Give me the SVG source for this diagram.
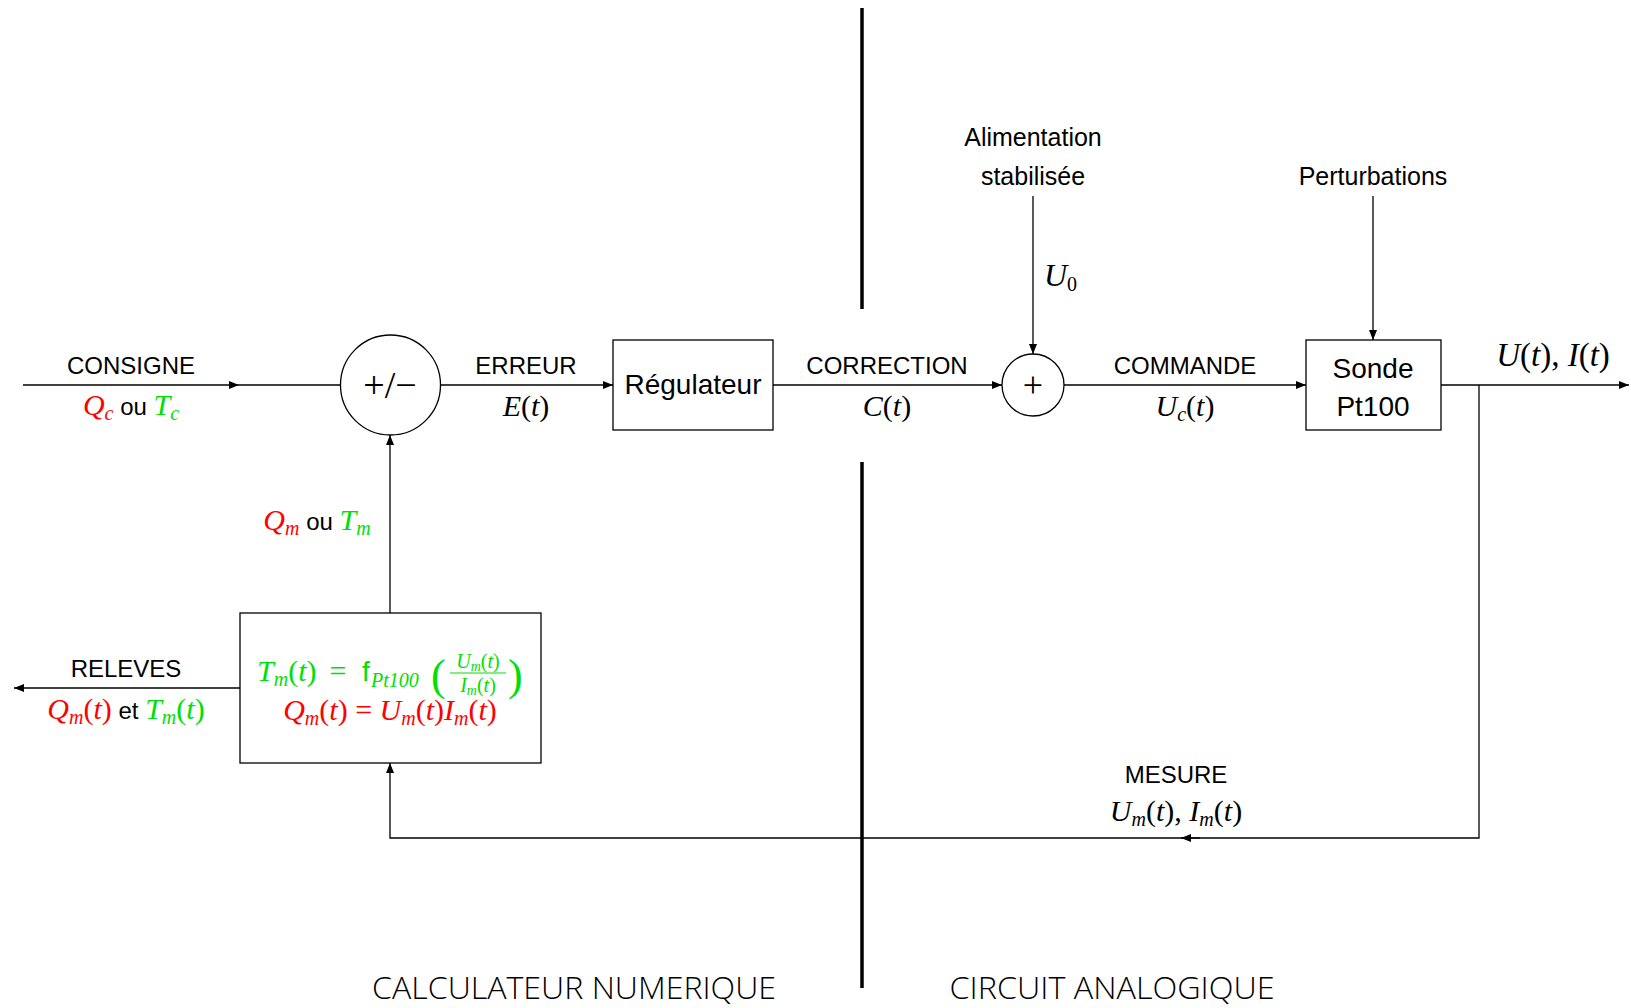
<svg xmlns="http://www.w3.org/2000/svg" width="1631" height="1008" viewBox="0 0 1631 1008">
<defs>
<marker id="ar" viewBox="0 0 10 8" refX="10" refY="4" markerWidth="10" markerHeight="8" markerUnits="userSpaceOnUse" orient="auto">
<path d="M0,0 L10,4 L0,8 Z" fill="#000"/>
</marker>
<style>
.s{font-family:"Liberation Sans","DejaVu Sans",sans-serif;font-size:24px;fill:#000}
.b{font-size:28px}
.m{font-family:"Liberation Serif","DejaVu Serif",serif;font-size:30px;fill:#000}
.i{font-style:italic}
.sub{font-size:20px}
.r{fill:#ff0000}
.g{fill:#00e000}
.big{font-family:"Open Sans","DejaVu Sans",sans-serif;font-weight:300;font-size:32px;fill:#000}
.ln{stroke:#000;stroke-width:1.3;fill:none}
.box{stroke:#000;stroke-width:1.3;fill:#fff}
.div{stroke:#000;stroke-width:3.5}
</style>
</defs>
<rect width="1631" height="1008" fill="#fff"/>

<g id="dividers">
<line class="div" x1="862" y1="8" x2="862" y2="309"/>
<line class="div" x1="862" y1="462" x2="862" y2="988"/>
</g>

<g id="connectors">
<path class="ln" d="M23,385 H239" marker-end="url(#ar)"/>
<path class="ln" d="M239,385 H340"/>
<path class="ln" d="M441,385 H613" marker-end="url(#ar)"/>
<path class="ln" d="M773,385 H1002" marker-end="url(#ar)"/>
<path class="ln" d="M1064,385 H1306" marker-end="url(#ar)"/>
<path class="ln" d="M1441,385 H1629" marker-end="url(#ar)"/>
<path class="ln" d="M1479,385 V838 H390 V763" marker-end="url(#ar)"/>
<path class="ln" d="M1200,838 H1181" marker-end="url(#ar)"/>
<path class="ln" d="M390,613 V435" marker-end="url(#ar)"/>
<path class="ln" d="M240,688 H14" marker-end="url(#ar)"/>
<path class="ln" d="M1033,196 V354" marker-end="url(#ar)"/>
<path class="ln" d="M1373,196 V340" marker-end="url(#ar)"/>
</g>

<g id="comparateur">
<circle class="box" cx="390.5" cy="385" r="50"/>
<text class="m" x="390" y="398" text-anchor="middle" style="font-size:38px">+/−</text>
</g>

<g id="regulateur">
<rect class="box" x="613" y="340" width="160" height="90"/>
<text class="s b" x="693" y="394" text-anchor="middle">Régulateur</text>
</g>

<g id="sommateur">
<circle class="box" cx="1033" cy="385" r="31"/>
<text class="m" x="1033" y="397" text-anchor="middle" style="font-size:36px">+</text>
</g>

<g id="sonde">
<rect class="box" x="1306" y="340" width="135" height="90"/>
<text class="s b" x="1373" y="378" text-anchor="middle">Sonde</text>
<text class="s b" x="1373" y="416" text-anchor="middle">Pt100</text>
</g>

<g id="calcul">
<rect class="box" x="240" y="613" width="301" height="150"/>
<text class="m g" x="257" y="681"><tspan class="i">T</tspan><tspan class="i sub" dy="5">m</tspan><tspan dy="-5">(</tspan><tspan class="i">t</tspan>)</text>
<text class="m g" x="338" y="681" text-anchor="middle">=</text>
<text class="s g" x="362" y="681" style="font-size:28px">f</text>
<text class="m g i sub" x="371" y="687">Pt100</text>
<text class="m g" x="431" y="690" style="font-size:44px">(</text>
<text class="m g" x="478" y="668" text-anchor="middle" style="font-size:20px"><tspan class="i">U</tspan><tspan class="i" dy="3" style="font-size:14px">m</tspan><tspan dy="-3">(</tspan><tspan class="i">t</tspan>)</text>
<line x1="450" y1="673" x2="506" y2="673" stroke="#00e000" stroke-width="1"/>
<text class="m g" x="478" y="692" text-anchor="middle" style="font-size:20px"><tspan class="i">I</tspan><tspan class="i" dy="3" style="font-size:14px">m</tspan><tspan dy="-3">(</tspan><tspan class="i">t</tspan>)</text>
<text class="m g" x="508" y="690" style="font-size:44px">)</text>
<text class="m r" x="390" y="720" text-anchor="middle"><tspan class="i">Q</tspan><tspan class="i sub" dy="5">m</tspan><tspan dy="-5">(</tspan><tspan class="i">t</tspan>) = <tspan class="i">U</tspan><tspan class="i sub" dy="5">m</tspan><tspan dy="-5">(</tspan><tspan class="i">t</tspan>)<tspan class="i">I</tspan><tspan class="i sub" dy="5">m</tspan><tspan dy="-5">(</tspan><tspan class="i">t</tspan>)</text>
</g>

<g id="labels">
<text class="s" x="131" y="374" text-anchor="middle">CONSIGNE</text>
<text class="s" x="131" y="415" text-anchor="middle"><tspan class="m i r">Q</tspan><tspan class="m i sub r" dy="5">c</tspan><tspan dy="-5"> ou </tspan><tspan class="m i g">T</tspan><tspan class="m i sub g" dy="5">c</tspan></text>

<text class="s" x="526" y="374" text-anchor="middle">ERREUR</text>
<text class="m" x="526" y="416" text-anchor="middle"><tspan class="i">E</tspan>(<tspan class="i">t</tspan>)</text>

<text class="s" x="887" y="374" text-anchor="middle">CORRECTION</text>
<text class="m" x="887" y="416" text-anchor="middle"><tspan class="i">C</tspan>(<tspan class="i">t</tspan>)</text>

<text class="s" x="1185" y="374" text-anchor="middle">COMMANDE</text>
<text class="m" x="1185" y="416" text-anchor="middle"><tspan class="i">U</tspan><tspan class="i sub" dy="5">c</tspan><tspan dy="-5">(</tspan><tspan class="i">t</tspan>)</text>

<text class="m" x="1553" y="366" text-anchor="middle" style="font-size:33px"><tspan class="i">U</tspan>(<tspan class="i">t</tspan>), <tspan class="i">I</tspan>(<tspan class="i">t</tspan>)</text>

<text class="s" x="1033" y="146" text-anchor="middle" style="font-size:25px">Alimentation</text>
<text class="s" x="1033" y="185" text-anchor="middle" style="font-size:25px">stabilisée</text>
<text class="m" x="1044" y="286" style="font-size:32px"><tspan class="i">U</tspan><tspan class="sub" dy="5">0</tspan></text>

<text class="s" x="1373" y="185" text-anchor="middle" style="font-size:25px">Perturbations</text>

<text class="s" x="1176" y="783" text-anchor="middle">MESURE</text>
<text class="m" x="1176" y="821" text-anchor="middle"><tspan class="i">U</tspan><tspan class="i sub" dy="5">m</tspan><tspan dy="-5">(</tspan><tspan class="i">t</tspan>), <tspan class="i">I</tspan><tspan class="i sub" dy="5">m</tspan><tspan dy="-5">(</tspan><tspan class="i">t</tspan>)</text>

<text class="s" x="317" y="530" text-anchor="middle"><tspan class="m i r">Q</tspan><tspan class="m i sub r" dy="5">m</tspan><tspan dy="-5"> ou </tspan><tspan class="m i g">T</tspan><tspan class="m i sub g" dy="5">m</tspan></text>

<text class="s" x="126" y="677" text-anchor="middle">RELEVES</text>
<text class="s" x="126" y="719" text-anchor="middle"><tspan class="m i r">Q</tspan><tspan class="m i sub r" dy="5">m</tspan><tspan class="m r" dy="-5">(</tspan><tspan class="m i r">t</tspan><tspan class="m r">)</tspan> et <tspan class="m i g">T</tspan><tspan class="m i sub g" dy="5">m</tspan><tspan class="m g" dy="-5">(</tspan><tspan class="m i g">t</tspan><tspan class="m g">)</tspan></text>

<text class="big" x="574" y="999" text-anchor="middle" textLength="404" lengthAdjust="spacingAndGlyphs">CALCULATEUR NUMERIQUE</text>
<text class="big" x="1112" y="999" text-anchor="middle" textLength="325" lengthAdjust="spacingAndGlyphs">CIRCUIT ANALOGIQUE</text>
</g>
</svg>
